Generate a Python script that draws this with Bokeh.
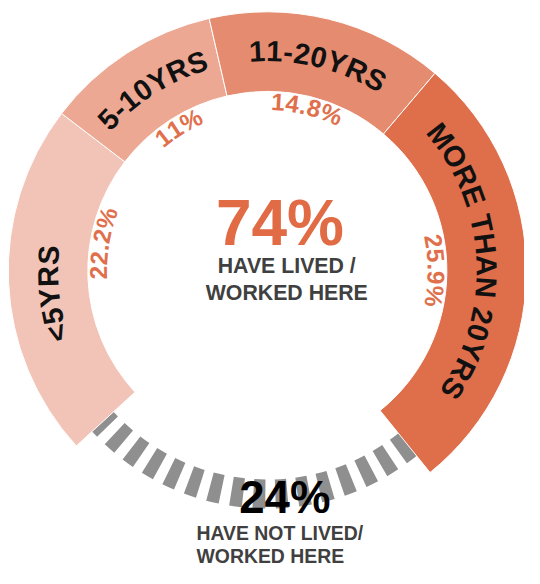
import numpy as np
from bokeh.plotting import figure
from bokeh.models import Range1d, ColumnDataSource
from bokeh.embed import file_html
from bokeh.resources import INLINE
from bokeh.core.properties import value

# ---------------- data ----------------
categories = ["<5YRS", "5-10YRS", "11-20YRS", "MORE THAN 20YRS"]
share_pct = [22.2, 11.0, 14.8, 25.9]     # printed shares (label positions)
arc_pct = [22.2, 11.0, 14.8, 28.0]       # arc extents as drawn in the ring
not_lived_pct = 24.0
lived_total = "74%"
not_lived_total = "24%"
lived_caption = ["HAVE LIVED /", "WORKED HERE"]
not_lived_caption = ["HAVE NOT LIVED/", "WORKED HERE"]

# ---------------- style / layout ----------------
seg_colors = ["#F2C4B7", "#ECA893", "#E58B6F", "#DF6E4B"]
pct_color = "#E0704C"
big_color = "#E06B45"
cap_color = "#404040"
gray = "#8F8F8F"
FONT = value("Liberation Sans")

W, H = 524, 568
LW, LH = 540.0, 584.0                 # layout units (scaled to fit)
S = W / LW


def px(v):
    return f"{v * S:.1f}px"


cx, cy = 275.0, -278.0
r_in, r_out = 185.0, 267.0
r_label, r_pct, r_dash = 226.0, 174.0, 230.0
start_cw = 227.5                      # clockwise from 12 o'clock
cat_shift_deg = [-3.5, 0.5, 0.0, 0.0]
pct_shift_deg = [12.0, 1.0, 0.0, 3.0]

BOLD = {' ': 278, '<': 584, '-': 333, 'A': 722, 'E': 667, 'H': 722, 'M': 833,
        'N': 722, 'O': 778, 'R': 722, 'S': 667, 'T': 611, 'Y': 667, '%': 889, '.': 278}
for d in "0123456789":
    BOLD[d] = 556


def m(cw_deg):
    return np.deg2rad(90.0 - np.asarray(cw_deg, dtype=float))


def curved(text, mid_deg, r, fs, widths, track):
    adv = [widths[c] / 1000.0 * fs for c in text]
    total = sum(adv) + track * (len(text) - 1)
    pos = -total / 2.0
    xs, ys, cs, angs = [], [], [], []
    for c, a in zip(text, adv):
        s = pos + a / 2.0
        th = mid_deg + np.degrees(s / r)
        if c != ' ':
            xs.append(cx + r * np.sin(np.deg2rad(th)))
            ys.append(cy + r * np.cos(np.deg2rad(th)))
            cs.append(c)
            angs.append(-np.deg2rad(th))
        pos += a + track
    return xs, ys, cs, angs


p = figure(width=W, height=H, x_range=Range1d(0, LW), y_range=Range1d(-LH, 0),
           output_backend="svg", toolbar_location=None, min_border=0, title=None)
p.axis.visible = False
p.grid.visible = False
p.outline_line_color = None
p.background_fill_color = "white"
p.border_fill_color = "white"

# segment boundaries
arc_b = start_cw + np.concatenate([[0.0], np.cumsum(arc_pct)]) * 3.6
seg_s, seg_e = arc_b[:-1], arc_b[1:]
lab_b = start_cw + np.concatenate([[0.0], np.cumsum(share_pct)]) * 3.6
lab_mid = (lab_b[:-1] + lab_b[1:]) / 2.0

# dashed "not lived" arc (drawn beneath the ring)
gap_s = seg_e[-1]
gap_e = gap_s + not_lived_pct * 3.6
p.arc(x=cx, y=cy, radius=r_dash, start_angle=float(m(gap_e + 1.3)), end_angle=float(m(gap_s - 2.0)),
      line_color=gray, line_width=30 * S, line_dash="12 10", line_cap="butt")

src = ColumnDataSource(dict(x=[cx] * 4, y=[cy] * 4, s=m(seg_e), e=m(seg_s), c=seg_colors))
p.annular_wedge(x="x", y="y", inner_radius=r_in, outer_radius=r_out, start_angle="s", end_angle="e",
                fill_color="c", line_color="white", line_width=1, source=src)

# category labels along ring
X, Y, C, A = [], [], [], []
for cat, md, sh in zip(categories, lab_mid, cat_shift_deg):
    xs, ys, cs, angs = curved(cat, md + sh, r_label, 30, BOLD, 1.0)
    X += xs; Y += ys; C += cs; A += angs
p.text(x=X, y=Y, text=C, angle=A, text_align="center", text_baseline="middle",
       text_font=FONT, text_font_style="bold", text_font_size=px(30), text_color="#111111")

# percentage labels
X, Y, C, A = [], [], [], []
for v, md, sh in zip(share_pct, lab_mid, pct_shift_deg):
    xs, ys, cs, angs = curved(f"{v:g}%", md + sh, r_pct, 25, BOLD, 1.0)
    X += xs; Y += ys; C += cs; A += angs
p.text(x=X, y=Y, text=C, angle=A, text_align="center", text_baseline="middle",
       text_font=FONT, text_font_style="bold", text_font_size=px(25), text_color=pct_color)

# centre texts (y = visual middle of the capitals)
p.text(x=[288], y=[-229], text=[lived_total], text_align="center", text_baseline="middle",
       text_font=FONT, text_font_style="bold", text_font_size=px(66), text_color=big_color)
p.text(x=[295, 295], y=[-272.5, -300.5], text=lived_caption, text_align="center", text_baseline="middle",
       text_font=FONT, text_font_style="bold", text_font_size=px(22), text_color=cap_color)

p.text(x=[293], y=[-511.5], text=[not_lived_total], text_align="center", text_baseline="middle",
       text_font=FONT, text_font_style="bold", text_font_size=px(47), text_color="#000000")
p.text(x=[202, 202], y=[-547, -571], text=not_lived_caption, text_align="left", text_baseline="middle",
       text_font=FONT, text_font_style="bold", text_font_size=px(20), text_color=cap_color)

open("out.html", "w").write(file_html(p, INLINE))
